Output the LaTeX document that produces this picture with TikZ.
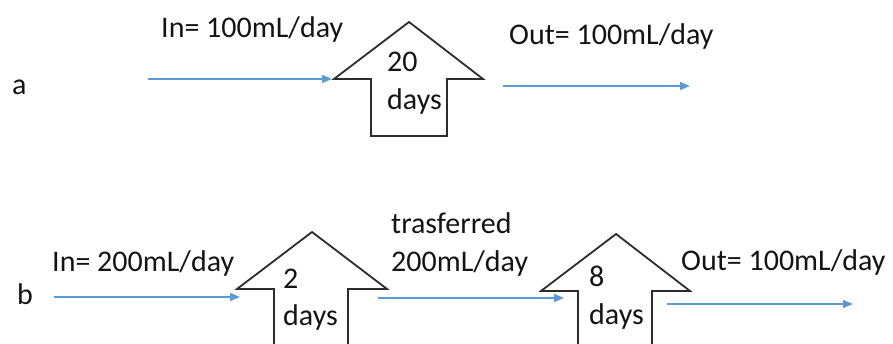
\documentclass[tikz,border=0pt]{standalone}
\usepackage{fontspec}
\setmainfont{Carlito}
\usetikzlibrary{arrows.meta}
\definecolor{flow}{RGB}{91,155,213}
\definecolor{ink}{RGB}{20,20,20}
\tikzset{
  lbl/.style={anchor=base west, inner sep=0pt, text=ink, font=\fontsize{30}{36}\selectfont},
  flowline/.style={draw=flow, line width=1.6pt, -{Triangle[length=10pt,width=8pt]}},
  vessel/.style={draw=ink!90, line width=1.8pt, line join=miter},
}
% tip x, tip y, shoulder left, shoulder right, shaft left, shaft right, bottom
\newcommand{\openarrow}[7]{%
  \draw[vessel] (#5,#7) -- (#5,#2+57) -- (#3,#2+57) -- (#1,#2) -- (#4,#2+57) -- (#6,#2+57) -- (#6,#7);
}
\newcommand{\closedarrow}[7]{%
  \draw[vessel] (#5,#7) -- (#5,#2+57) -- (#3,#2+57) -- (#1,#2) -- (#4,#2+57) -- (#6,#2+57) -- (#6,#7) -- cycle;
}
\begin{document}
\begin{tikzpicture}[x=1pt,y=-1pt]
\useasboundingbox (0,0) rectangle (893,344);

% --- row a: one vessel, 20 days ---
\node[lbl] (la) at (12,95) {a};
\closedarrow{409}{22}{334}{483}{371}{447}{136}
\coordinate (aL) at (332,79);
\coordinate (aR) at (503,86);
\coordinate (aS) at (148,79);
\coordinate (aE) at (690,86);
\node[lbl] (ina) at (161,38) {In= 100mL/day};
\node[lbl] (outa) at (509,45) {Out= 100mL/day};
\node[lbl] (ta1) at (387,72) {20};
\node[lbl] (ta2) at (387,110) {days};
\draw[flowline] (aS) -- (aL);
\draw[flowline] (aR) -- (aE);

% --- row b: two vessels in series, 2 days and 8 days ---
\node[lbl] (lb) at (17,305) {b};
\openarrow{312}{232}{237}{387}{274}{348}{350}
\openarrow{616}{234}{541}{690}{578}{652}{350}
\coordinate (bS) at (54,297);
\coordinate (b1L) at (240,297);
\coordinate (b1R) at (378,298);
\coordinate (b2L) at (564,298);
\coordinate (b2R) at (667,304);
\coordinate (bE) at (853,304);
\node[lbl] (inb) at (52,272) {In= 200mL/day};
\node[lbl] (tr1) at (391,234) {trasferred};
\node[lbl] (tr2) at (391,272) {200mL/day};
\node[lbl] (outb) at (681,271) {Out= 100mL/day};
\node[lbl] (tb1) at (283,288) {2};
\node[lbl] (tb2) at (283,325) {days};
\node[lbl] (tc1) at (589,287) {8};
\node[lbl] (tc2) at (589,324) {days};
\draw[flowline] (bS) -- (b1L);
\draw[flowline] (b1R) -- (b2L);
\draw[flowline] (b2R) -- (bE);
\end{tikzpicture}
\end{document}
